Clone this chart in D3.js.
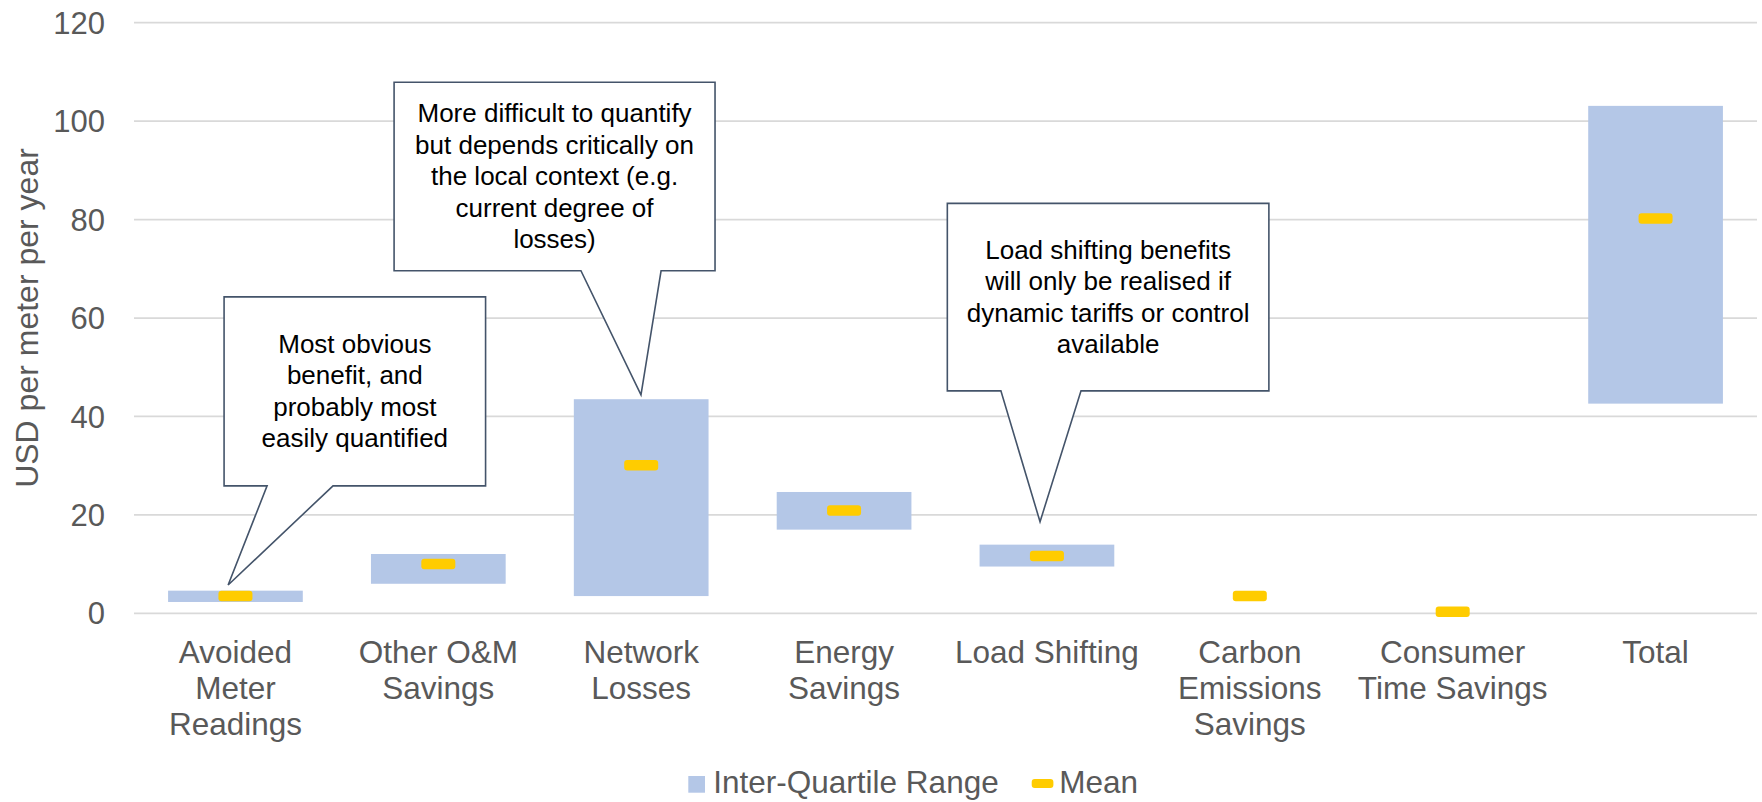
<!DOCTYPE html>
<html>
<head>
<meta charset="utf-8">
<script src="https://cdn.jsdelivr.net/npm/d3@7"></script>
<style>
  html, body { margin: 0; padding: 0; background: #fff; }
  svg { display: block; font-family: "Liberation Sans", Arial, sans-serif; }
</style>
</head>
<body>
<svg id="chart" width="1762" height="802"></svg>
<script>
// ---- Data ----
const categories = ["Avoided Meter Readings", "Other O&M Savings", "Network Losses", "Energy Savings",
                    "Load Shifting", "Carbon Emissions Savings", "Consumer Time Savings", "Total"];
const categoryLines = [["Avoided", "Meter", "Readings"], ["Other O&M", "Savings"], ["Network", "Losses"],
                       ["Energy", "Savings"], ["Load Shifting"], ["Carbon", "Emissions", "Savings"],
                       ["Consumer", "Time Savings"], ["Total"]];
const iqrLow  = [2.3, 6.0, 3.5, 17.0, 9.5, null, null, 42.6];
const iqrHigh = [4.6, 12.05, 43.5, 24.65, 13.95, null, null, 103.1];
const means   = [3.5, 10.0, 30.1, 20.9, 11.65, 3.5, 0.3, 80.2];
const yTicks  = [0, 20, 40, 60, 80, 100, 120];
const yTitle  = "USD per meter per year";
const legendLabels = ["Inter-Quartile Range", "Mean"];
const calloutTexts = [
  ["Most obvious", "benefit, and", "probably most", "easily quantified"],
  ["More difficult to quantify", "but depends critically on", "the local context (e.g.", "current degree of", "losses)"],
  ["Load shifting benefits", "will only be realised if", "dynamic tariffs or control", "available"]
];

// ---- Layout ----
const svg = d3.select("#chart");
const plotL = 134, plotR = 1757, plotT = 22.7, plotB = 613.3;
const x = d3.scaleBand().domain(categories).range([plotL, plotR]).paddingInner(0.336).paddingOuter(0.168);
const y = d3.scaleLinear().domain([0, 120]).range([plotB, plotT]);
const xi = d3.scaleLinear().domain([0, 1]).range([x(categories[0]) + x.bandwidth() / 2, x(categories[1]) + x.bandwidth() / 2]);

const barColor = "#B4C7E7", meanColor = "#FFCC00", textGray = "#595959", calloutStroke = "#44546A";

// gridlines
svg.append("g").selectAll("line").data(yTicks).join("line")
  .attr("x1", plotL).attr("x2", plotR)
  .attr("y1", d => y(d)).attr("y2", d => y(d))
  .attr("stroke", "#D9D9D9").attr("stroke-width", 1.75);

// y tick labels
svg.append("g").selectAll("text").data(yTicks).join("text")
  .attr("x", 105).attr("y", d => y(d)).attr("dy", "0.36em")
  .attr("text-anchor", "end").attr("fill", textGray).attr("font-size", 31)
  .text(d => d);

// y title
svg.append("text")
  .attr("transform", `translate(38,${(plotT + plotB) / 2}) rotate(-90)`)
  .attr("text-anchor", "middle").attr("fill", textGray).attr("font-size", 32)
  .text(yTitle);

// bars
const barData = categories.map((c, i) => ({ c, lo: iqrLow[i], hi: iqrHigh[i], m: means[i] }));
svg.append("g").selectAll("rect").data(barData.filter(d => d.lo != null)).join("rect")
  .attr("x", d => x(d.c)).attr("width", x.bandwidth())
  .attr("y", d => y(d.hi)).attr("height", d => y(d.lo) - y(d.hi))
  .attr("fill", barColor);

// means
const mw = 34, mh = 10.5;
svg.append("g").selectAll("rect").data(barData).join("rect")
  .attr("x", d => x(d.c) + x.bandwidth() / 2 - mw / 2).attr("width", mw)
  .attr("y", d => y(d.m) - mh / 2).attr("height", mh)
  .attr("rx", 3).attr("fill", meanColor);

// x labels
const xl = svg.append("g").selectAll("text").data(categories).join("text")
  .attr("text-anchor", "middle").attr("fill", textGray).attr("font-size", 31.5)
  .attr("transform", d => `translate(${x(d) + x.bandwidth() / 2},662.7)`);
xl.selectAll("tspan").data((d, i) => categoryLines[i]).join("tspan")
  .attr("x", 0).attr("y", (d, j) => j * 36.3).text(d => d);

// callouts (positions in category-index units and value units)
const calloutGeom = [
  { x0: -0.056, x1: 1.233, top: 64.3, bot: 25.9, b0: 0.156, b1: 0.481, tx: -0.036, ty: 5.75 },
  { x0: 0.782, x1: 2.364, top: 107.9, bot: 69.6, b0: 1.703, b1: 2.098, tx: 1.999, ty: 44.4 },
  { x0: 3.509, x1: 5.094, top: 83.3, bot: 45.2, b0: 3.773, b1: 4.168, tx: 3.966, ty: 18.6 }
];
const lh = 31.5;
calloutGeom.forEach((g, k) => {
  const p = d3.path();
  p.moveTo(xi(g.x0), y(g.top));
  p.lineTo(xi(g.x1), y(g.top));
  p.lineTo(xi(g.x1), y(g.bot));
  p.lineTo(xi(g.b1), y(g.bot));
  p.lineTo(xi(g.tx), y(g.ty));
  p.lineTo(xi(g.b0), y(g.bot));
  p.lineTo(xi(g.x0), y(g.bot));
  p.closePath();
  svg.append("path").attr("d", p.toString())
    .attr("fill", "#fff").attr("stroke", calloutStroke).attr("stroke-width", 1.6)
    .attr("stroke-linejoin", "miter");
  const lines = calloutTexts[k];
  const cx = (xi(g.x0) + xi(g.x1)) / 2;
  const cy = (y(g.top) + y(g.bot)) / 2;
  const first = cy - lines.length * lh / 2 + lh * 0.78;
  svg.append("text").attr("text-anchor", "middle").attr("fill", "#000").attr("font-size", 26)
    .selectAll("tspan").data(lines).join("tspan")
    .attr("x", cx).attr("y", (d, j) => first + j * lh).text(d => d);
});

// legend
const lgY = 793;
const lg = svg.append("g");
lg.append("rect").attr("x", 688.3).attr("y", lgY - 17).attr("width", 16.7).attr("height", 16.7).attr("fill", barColor);
lg.append("text").attr("x", 713.3).attr("y", lgY).attr("fill", textGray).attr("font-size", 31.5).text(legendLabels[0]);
lg.append("rect").attr("x", 1031.7).attr("y", lgY - 14).attr("width", 21.7).attr("height", 9).attr("rx", 3).attr("fill", meanColor);
lg.append("text").attr("x", 1059.3).attr("y", lgY).attr("fill", textGray).attr("font-size", 31.5).text(legendLabels[1]);
</script>
</body>
</html>
